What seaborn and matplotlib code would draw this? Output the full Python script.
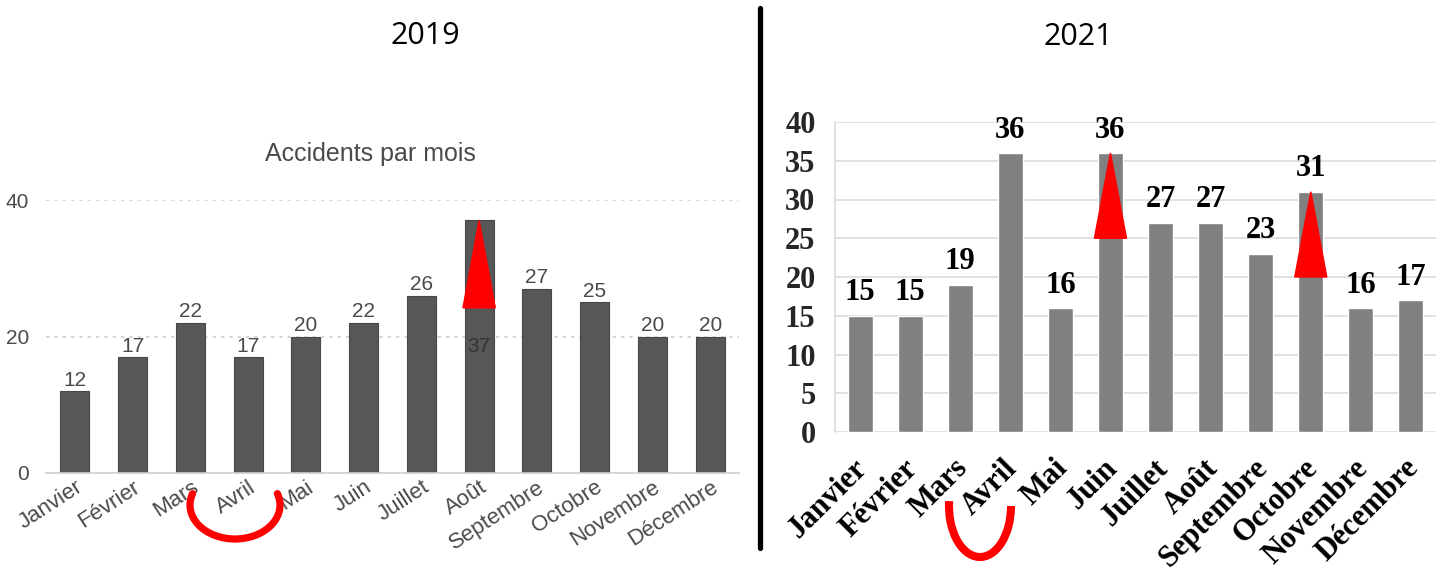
import matplotlib
matplotlib.use("Agg")
import matplotlib.pyplot as plt
import matplotlib.transforms as mtransforms
from matplotlib.patches import Polygon, Arc
from matplotlib.lines import Line2D
import seaborn as sns

# Data
mois = ['Janvier', 'Février', 'Mars', 'Avril', 'Mai', 'Juin', 'Juillet',
        'Août', 'Septembre', 'Octobre', 'Novembre', 'Décembre']
acc_2019 = [12, 17, 22, 17, 20, 22, 26, 37, 27, 25, 20, 20]
acc_2021 = [15, 15, 19, 36, 16, 36, 27, 27, 23, 31, 16, 17]

# red arrows: (month, base level of the triangle)
fleches_2019 = [('Août', 24.2)]
fleches_2021 = [('Juin', 25), ('Octobre', 20)]

sns.set_style('white')
plt.rcParams['font.family'] = ['Liberation Sans', 'DejaVu Sans']

W, H = 1436, 572
fig = plt.figure(figsize=(W / 100, H / 100), dpi=100)

# pixel coordinates (y down) -> figure
px = mtransforms.Affine2D().scale(1 / W, -1 / H).translate(0, 1) + fig.transFigure


def axes_px(left, top, right, bottom):
    return fig.add_axes([left / W, 1 - bottom / H, (right - left) / W, (bottom - top) / H])


# ---------------- 2019 ----------------
ax1 = axes_px(46, 200, 739, 473)
sns.barplot(x=mois, y=acc_2019, ax=ax1, color='#575757', saturation=1,
            width=0.5, edgecolor='#474747', linewidth=0.8)
ax1.set_xlim(-0.5, 11.5)
ax1.set_ylim(0, 40)
ax1.set_yticks([0, 20, 40])
ax1.yaxis.grid(True, linestyle=(0, (2, 3)), color='#cfcfcf', linewidth=1.2)
ax1.set_axisbelow(True)
for s in ['left', 'top', 'right']:
    ax1.spines[s].set_visible(False)
ax1.spines['bottom'].set_color('#cfcfcf')
ax1.spines['bottom'].set_linewidth(1.2)
ax1.set_xlabel('')
ax1.set_ylabel('')
ax1.set_xticks(range(len(mois)))
ax1.set_xticks([i - 0.5 for i in range(len(mois) + 1)], minor=True)
ax1.tick_params(axis='x', which='major', length=0, pad=9)
ax1.tick_params(axis='x', which='minor', length=6, color='#cfcfcf', width=1.2)
ax1.tick_params(axis='y', length=0, pad=12, labelsize=15, labelcolor='#4a4a4a')
ax1.set_xticklabels(mois, rotation=33, ha='right', va='center',
                    rotation_mode='anchor', fontsize=16, color='#4a4a4a')
shift = mtransforms.ScaledTranslation(6 / 100, 0, fig.dpi_scale_trans)
for lab in ax1.get_xticklabels():
    lab.set_transform(lab.get_transform() + shift)

i_aout = mois.index('Août')
labels19 = [str(v) if i != i_aout else '' for i, v in enumerate(acc_2019)]
ax1.bar_label(ax1.containers[0], labels=labels19, padding=1, fontsize=15, color='#4a4a4a')
ax1.text(i_aout, acc_2019[i_aout] / 2, str(acc_2019[i_aout]), ha='center', va='center',
         fontsize=15, color='#333333')

for m, base in fleches_2019:
    i = mois.index(m)
    ax1.add_patch(Polygon([(i, acc_2019[i]), (i - 0.28, base), (i + 0.28, base)],
                          closed=True, color='#ff0000', zorder=5))

fig.text(370 / W, 1 - 154 / H, 'Accidents par mois', ha='center', va='center',
         fontsize=18, color='#4a4a4a')
fig.text(425 / W, 1 - 36 / H, '2019', ha='center', va='center', fontsize=22,
         family=['Open Sans', 'DejaVu Sans'], color='black')

# ---------------- 2021 ----------------
serif = ['Liberation Serif', 'DejaVu Serif']
ax2 = axes_px(835, 122, 1436, 432)
sns.barplot(x=mois, y=acc_2021, ax=ax2, color='#808080', saturation=1, width=0.5)
ax2.set_xlim(-0.5, 11.4)
ax2.set_ylim(0, 40)
ax2.set_yticks(range(0, 45, 5))
ax2.yaxis.grid(True, color='#dcdcdc', linewidth=1.2)
ax2.set_axisbelow(True)
for s in ['top', 'right', 'bottom']:
    ax2.spines[s].set_visible(False)
ax2.spines['left'].set_color('#dcdcdc')
ax2.spines['left'].set_linewidth(1.2)
ax2.set_xlabel('')
ax2.set_ylabel('')
ax2.set_xticks(range(len(mois)))
ax2.set_xticks([i - 0.5 for i in range(len(mois) + 1)], minor=True)
ax2.tick_params(axis='x', which='major', length=0, pad=23)
ax2.tick_params(axis='x', which='minor', length=10, color='#dcdcdc', width=1.2)
ax2.tick_params(axis='y', length=8, color='#dcdcdc', width=1.2, pad=6)
ax2.set_xticklabels(mois, rotation=45, ha='right', va='center', rotation_mode='anchor',
                    fontsize=22, fontweight='bold', family=serif, color='black')
shift2 = mtransforms.ScaledTranslation(3 / 100, 0, fig.dpi_scale_trans)
for lab in ax2.get_xticklabels():
    lab.set_transform(lab.get_transform() + shift2)
for lab in ax2.get_yticklabels():
    lab.set_fontsize(22)
    lab.set_fontweight('bold')
    lab.set_family(serif)
ax2.bar_label(ax2.containers[0], padding=6, fontsize=22, fontweight='bold',
              family=serif, color='black')

for m, base in fleches_2021:
    i = mois.index(m)
    ax2.add_patch(Polygon([(i, acc_2021[i]), (i - 0.32, base), (i + 0.32, base)],
                          closed=True, color='#ff0000', zorder=5))

fig.text(1078 / W, 1 - 37 / H, '2021', ha='center', va='center', fontsize=22,
         family=['Open Sans', 'DejaVu Sans'], color='black')

# red arcs under Mars / Avril
fig.add_artist(Arc((235, 505), 90, 68, theta1=-15, theta2=195, transform=px,
                   color='#ff0000', linewidth=5.2, capstyle='round'))
fig.add_artist(Arc((980, 506), 62, 102, theta1=0, theta2=189, transform=px,
                   color='#ff0000', linewidth=5.8))

# black divider
fig.add_artist(Line2D([759.5, 759.5], [8, 548], transform=px, color='black', linewidth=3.8))

fig.savefig('out.png', dpi=100)
